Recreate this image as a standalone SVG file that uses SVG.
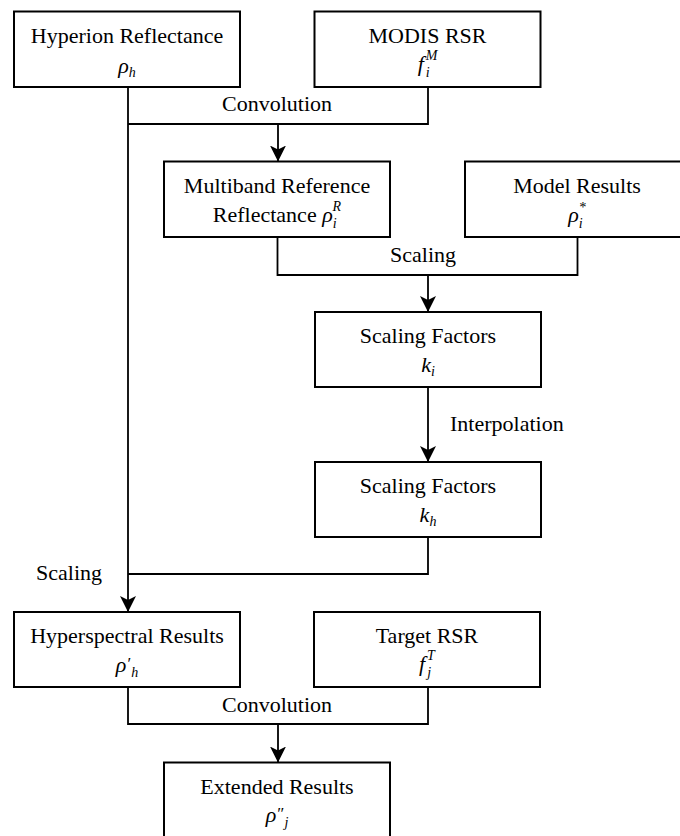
<svg xmlns="http://www.w3.org/2000/svg" width="680" height="836" viewBox="0 0 680 836">
<defs>
<style>
.box{fill:#fff;stroke:#000;stroke-width:2}
.con{fill:none;stroke:#000;stroke-width:1.8}
text{font-family:"Liberation Serif","Times New Roman",serif;font-size:22px;fill:#000}
.t{text-anchor:middle}
.m{font-style:italic}
.s{font-size:14px;font-style:italic}
.p{font-size:17px}
</style>
<marker id="arr" viewBox="0 0 16 16" refX="16" refY="8" markerWidth="16" markerHeight="16" markerUnits="userSpaceOnUse" orient="auto">
<path d="M0,0 L16,8 L0,16 L4,8 z" fill="#000"/>
</marker>
</defs>
<rect width="680" height="836" fill="#fff"/>
<g id="connectors">
<path class="con" d="M128,87 V612" marker-end="url(#arr)"/>
<path class="con" d="M428,87 V124 H128"/>
<path class="con" d="M278,124 V161.5" marker-end="url(#arr)"/>
<path class="con" d="M277.5,237 V275 H577.5 V237"/>
<path class="con" d="M428,275 V312" marker-end="url(#arr)"/>
<path class="con" d="M428,387 V462" marker-end="url(#arr)"/>
<path class="con" d="M428,537 V574 H128"/>
<path class="con" d="M128,687 V724 H428 V687"/>
<path class="con" d="M278,724 V762.5" marker-end="url(#arr)"/>
<text class="t" x="277" y="111">Convolution</text>
<text class="t" x="423" y="262">Scaling</text>
<text x="450" y="431">Interpolation</text>
<text x="36" y="580">Scaling</text>
<text class="t" x="277" y="712">Convolution</text>
</g>
<g id="hyperion">
<rect class="box" x="14" y="11.5" width="226" height="75.5"/>
<text class="t" x="127" y="43">Hyperion Reflectance</text>
<text class="t" x="127" y="73"><tspan class="m">ρ</tspan><tspan class="s" dy="4">h</tspan></text>
</g>
<g id="modis">
<rect class="box" x="314.5" y="11.5" width="226" height="75.5"/>
<text class="t" x="427.5" y="43">MODIS RSR</text>
<text class="t" x="427.5" y="71"><tspan class="m">f</tspan><tspan class="s" dx="2" dy="6">i</tspan><tspan class="s" dx="-4" dy="-17">M</tspan></text>
</g>
<g id="multiband">
<rect class="box" x="164" y="161.5" width="226" height="75.5"/>
<text class="t" x="277" y="193">Multiband Reference</text>
<text class="t" x="277" y="222">Reflectance <tspan class="m">ρ</tspan><tspan class="s" dy="6">i</tspan><tspan class="s" dx="-4" dy="-17">R</tspan></text>
</g>
<g id="model">
<rect class="box" x="465" y="161.5" width="226" height="75.5"/>
<text class="t" x="577" y="193">Model Results</text>
<text class="t" x="577" y="222"><tspan class="m">ρ</tspan><tspan class="s" dy="6">i</tspan><tspan class="s" dx="-4" dy="-16">*</tspan></text>
</g>
<g id="scaling-factors-i">
<rect class="box" x="315" y="312" width="226" height="75"/>
<text class="t" x="428" y="343">Scaling Factors</text>
<text class="t" x="428" y="372"><tspan class="m">k</tspan><tspan class="s" dy="4">i</tspan></text>
</g>
<g id="scaling-factors-h">
<rect class="box" x="315" y="462" width="226" height="75"/>
<text class="t" x="428" y="493">Scaling Factors</text>
<text class="t" x="428" y="522"><tspan class="m">k</tspan><tspan class="s" dy="4">h</tspan></text>
</g>
<g id="hyperspectral">
<rect class="box" x="14" y="612" width="226" height="75"/>
<text class="t" x="127" y="643">Hyperspectral Results</text>
<text class="t" x="127" y="672"><tspan class="m">ρ</tspan><tspan class="p" dx="1" dy="-3">′</tspan><tspan class="s" dy="8">h</tspan></text>
</g>
<g id="target">
<rect class="box" x="314" y="612" width="226" height="75"/>
<text class="t" x="427" y="643">Target RSR</text>
<text class="t" x="427" y="671"><tspan class="m">f</tspan><tspan class="s" dx="2" dy="6">j</tspan><tspan class="s" dx="-4" dy="-17">T</tspan></text>
</g>
<g id="extended">
<rect class="box" x="164" y="762.5" width="226" height="75.5"/>
<text class="t" x="277" y="794">Extended Results</text>
<text class="t" x="277" y="822"><tspan class="m">ρ</tspan><tspan class="p" dx="1" dy="-3">″</tspan><tspan class="s" dy="8">j</tspan></text>
</g>
</svg>
